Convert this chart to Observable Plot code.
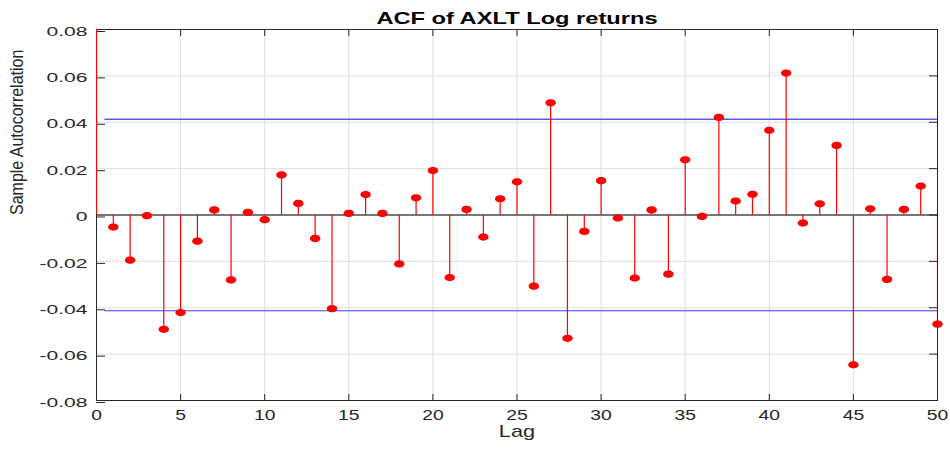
<!DOCTYPE html>
<html>
<head>
<meta charset="utf-8">
<script src="https://cdn.jsdelivr.net/npm/d3@7"></script>
<script src="https://cdn.jsdelivr.net/npm/@observablehq/plot@0.6"></script>
<style>
  html, body { margin: 0; padding: 0; background: #fff; }
  #chart { width: 950px; height: 450px; }
</style>
</head>
<body>
<div id="chart"></div>
<script>
const titleText = "ACF of AXLT Log returns";
const xLabel = "Lag";
const yLabel = "Sample Autocorrelation";

const lags = [0,1,2,3,4,5,6,7,8,9,10,11,12,13,14,15,16,17,18,19,20,21,22,23,24,25,26,27,28,29,30,31,32,33,34,35,36,37,38,39,40,41,42,43,44,45,46,47,48,49,50];
const acf = [1,
  -0.0052, -0.0195, -0.0003, -0.0493, -0.0421, -0.0113, 0.0022, -0.0280, 0.0011, -0.0020,
  0.0173, 0.0050, -0.0101, -0.0404, 0.0007, 0.0088, 0.0007, -0.0211, 0.0074, 0.0192,
  -0.0270, 0.0024, -0.0095, 0.0070, 0.0143, -0.0307, 0.0484, -0.0532, -0.0071, 0.0148,
  -0.0013, -0.0272, 0.0022, -0.0255, 0.0238, -0.0006, 0.0421, 0.0060, 0.0089, 0.0365,
  0.0612, -0.0035, 0.0048, 0.0300, -0.0646, 0.0027, -0.0278, 0.0024, 0.0125, -0.0471];

const confBound = 0.0413;
const boundLagStart = 0.5;
const boundLagEnd = 50;

const xDomain = [0, 50];
const yDomain = [-0.08, 0.08];
const xTicks = [0, 5, 10, 15, 20, 25, 30, 35, 40, 45, 50];
const yTicks = [-0.08, -0.06, -0.04, -0.02, 0, 0.02, 0.04, 0.06, 0.08];

const data = lags.map((lag, i) => ({lag, acf: acf[i]}));

// ellipse symbol (wider than tall) to mimic the reference markers
const ellipse = {
  draw(context, size) {
    const ry = Math.sqrt(size / Math.PI);
    const rx = ry * 1.45;
    const k = 0.5523;
    context.moveTo(rx, 0);
    context.bezierCurveTo(rx, k * ry, k * rx, ry, 0, ry);
    context.bezierCurveTo(-k * rx, ry, -rx, k * ry, -rx, 0);
    context.bezierCurveTo(-rx, -k * ry, -k * rx, -ry, 0, -ry);
    context.bezierCurveTo(k * rx, -ry, rx, -k * ry, rx, 0);
    context.closePath();
  }
};

const yFmt = d => Math.abs(d) < 1e-12 ? "0" : d.toFixed(2);
const axisColor = "#262626";

const plot = Plot.plot({
  width: 950,
  height: 450,
  marginLeft: 96,
  marginRight: 13,
  marginTop: 29,
  marginBottom: 50,
  style: {fontFamily: "'Liberation Sans', Arial, sans-serif", background: "#fff", overflow: "visible"},
  x: {domain: xDomain, axis: null},
  y: {domain: yDomain, axis: null},
  marks: [
    Plot.gridX(xTicks, {stroke: "#dfdfdf", strokeOpacity: 1}),
    Plot.gridY(yTicks, {stroke: "#dfdfdf", strokeOpacity: 1}),
    Plot.ruleY([confBound], {x1: boundLagStart, x2: boundLagEnd, stroke: "#5a5af2", strokeWidth: 1.6}),
    Plot.ruleY([-confBound], {x1: boundLagStart, x2: boundLagEnd, stroke: "#3a3aff", strokeWidth: 1.2}),
    Plot.ruleY([0], {stroke: "#000", strokeWidth: 1.2}),
    Plot.frame({stroke: axisColor, strokeWidth: 1}),
    Plot.axisX({anchor: "bottom", ticks: xTicks, tickSize: -6, tickPadding: 16, tickFormat: d => String(d), fontSize: 14, fill: axisColor, stroke: axisColor, label: null}),
    Plot.axisX({anchor: "top", ticks: xTicks, tickSize: -6, tickFormat: () => "", stroke: axisColor, label: null}),
    Plot.axisY({anchor: "left", ticks: yTicks, tickSize: -9, tickPadding: 18, tickFormat: yFmt, fontSize: 13, fill: axisColor, stroke: axisColor, dy: 2, label: null}),
    Plot.axisY({anchor: "right", ticks: yTicks, tickSize: -9, tickFormat: () => "", stroke: axisColor, label: null}),
    Plot.ruleX(data, {x: "lag", y1: 0, y2: "acf", stroke: "#ff0000", strokeWidth: 1.2, clip: true}),
    Plot.dot(data, {x: "lag", y: "acf", r: 3.6, symbol: ellipse, fill: "#ff0000", stroke: "none"}),
    Plot.text([titleText], {frameAnchor: "top", lineAnchor: "bottom", dy: -6, fontSize: 16, fontWeight: "bold", fill: "#000"}),
    Plot.text([xLabel], {frameAnchor: "bottom", lineAnchor: "bottom", dy: 36, fontSize: 16, fill: axisColor}),
    Plot.text([yLabel], {frameAnchor: "left", rotate: -90, lineAnchor: "middle", dx: -80, fontSize: 16, fill: axisColor})
  ]
});

document.getElementById("chart").appendChild(plot);

// emulate the horizontally stretched rendering of the reference text
function stretchEl(t, sx, sy) {
  let tr = t.getAttribute("transform");
  if (!tr) {
    const x = t.getAttribute("x") || 0, y = t.getAttribute("y") || 0;
    t.removeAttribute("x"); t.removeAttribute("y");
    tr = `translate(${x},${y})`;
  }
  t.setAttribute("transform", `${tr} scale(${sx},${sy})`);
}
const yTickLabels = new Set(yTicks.map(yFmt));
const xTickLabels = new Set(xTicks.map(String));
plot.querySelectorAll("text").forEach(t => {
  const s = t.textContent;
  if (s === titleText) stretchEl(t, 1.48, 1);
  else if (s === xLabel) stretchEl(t, 1.36, 1);
  else if (s === yLabel) stretchEl(t, 1, 1.19);
  else if (yTickLabels.has(s) && t.getAttribute("text-anchor") === "end") stretchEl(t, 1.62, 1);
  else if (yTickLabels.has(s) && t.closest('g[aria-label="y-axis tick label"]')) stretchEl(t, 1.62, 1);
  else if (xTickLabels.has(s)) stretchEl(t, 1.38, 1);
});
</script>
</body>
</html>
